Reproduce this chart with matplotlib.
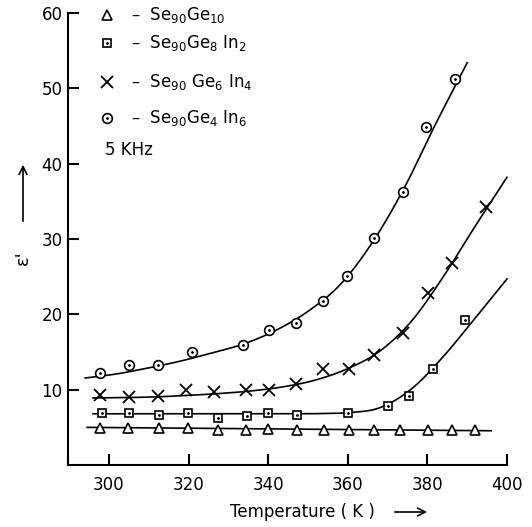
import numpy as np
import matplotlib
matplotlib.use("Agg")
import matplotlib.pyplot as plt

# ---------------- data ----------------
# Se90Ge10 (triangles)
t_tri = [297.7, 304.9, 312.6, 319.9, 327.5, 334.4, 340.0, 347.2, 353.9, 360.4,
         366.6, 373.1, 380.2, 386.1, 392.0]
e_tri = [4.95, 4.9, 4.85, 4.9, 4.7, 4.7, 4.75, 4.7, 4.65, 4.7, 4.65, 4.6, 4.6, 4.65, 4.65]
# Se90Ge8In2 (squares)
t_sq = [298.2, 305.0, 312.6, 319.9, 327.5, 334.7, 340.0, 347.2, 360.1, 370.2, 375.5, 381.3, 389.4]
e_sq = [6.9, 6.9, 6.7, 6.9, 6.3, 6.5, 6.9, 6.6, 6.9, 7.9, 9.2, 12.7, 19.2]
# Se90Ge6In4 (crosses)
t_x = [297.7, 305.0, 312.4, 319.3, 326.4, 334.4, 340.3, 347.0, 353.8, 360.4,
       366.6, 373.8, 380.2, 386.1, 394.7]
e_x = [9.3, 9.0, 9.1, 10.0, 9.7, 10.0, 10.0, 10.8, 12.7, 12.7, 14.6, 17.5, 22.9, 26.8, 34.3]
# Se90Ge4In6 (circles)
t_ci = [297.7, 305.0, 312.4, 320.8, 333.7, 340.3, 347.0, 353.8, 359.9, 366.7,
        373.8, 379.6, 386.9]
e_ci = [12.2, 13.3, 13.3, 15.0, 15.9, 17.9, 18.9, 21.8, 25.1, 30.2, 36.2, 44.9, 51.2]

# drawn trend curves
ct_tri = [294.5, 396.0]
ce_tri = [5.0, 4.55]
ct_sq = [296, 304, 312, 320, 328, 336, 344, 352, 360, 368, 376, 384, 392, 400]
ce_sq = [6.8, 6.8, 6.8, 6.8, 6.8, 6.8, 6.8, 6.82, 6.95, 7.6, 10.1, 14.4, 19.5, 24.7]
ct_x = [296, 304, 312, 320, 328, 336, 344, 352, 360, 368, 376, 384, 392, 400]
ce_x = [8.9, 8.95, 9.05, 9.25, 9.5, 9.85, 10.4, 11.3, 12.8, 15.1, 19.1, 25.0, 31.7, 38.2]
ct_ci = [294, 302, 310, 318, 326, 334, 342, 350, 358, 366, 374, 382, 390]
ce_ci = [11.55, 12.1, 12.9, 13.8, 14.9, 16.1, 17.9, 20.4, 23.9, 29.4, 36.6, 45.2, 53.4]

x_ticks = [300, 320, 340, 360, 380, 400]
y_ticks = [10, 20, 30, 40, 50, 60]
labels = [r'$\mathrm{Se_{90}Ge_{10}}$',
          r'$\mathrm{Se_{90}Ge_{8}\ In_{2}}$',
          r'$\mathrm{Se_{90}\ Ge_{6}\ In_{4}}$',
          r'$\mathrm{Se_{90}Ge_{4}\ In_{6}}$']
freq_label = '5 KHz'


def smooth(xs, ys, n=25):
    pts = np.column_stack([xs, ys]).astype(float)
    if len(pts) < 3:
        return pts[:, 0], pts[:, 1]
    p = np.vstack([2 * pts[0] - pts[1], pts, 2 * pts[-1] - pts[-2]])
    t = np.linspace(0, 1, n, endpoint=False)[:, None]
    out = []
    for i in range(1, len(p) - 2):
        p0, p1, p2, p3 = p[i - 1], p[i], p[i + 1], p[i + 2]
        seg = 0.5 * ((2 * p1) + (-p0 + p2) * t + (2 * p0 - 5 * p1 + 4 * p2 - p3) * t ** 2
                     + (-p0 + 3 * p1 - 3 * p2 + p3) * t ** 3)
        out.append(seg)
    out.append(pts[-1][None, :])
    o = np.vstack(out)
    return o[:, 0], o[:, 1]


fig = plt.figure(figsize=(5.32, 5.27), dpi=100)
ax = fig.add_axes([0.1278, 0.1176, 0.8252, 0.8577])
lw = 1.2
col = 'black'

for cx, cy in [(ct_tri, ce_tri), (ct_sq, ce_sq), (ct_x, ce_x), (ct_ci, ce_ci)]:
    sx, sy = smooth(cx, cy)
    ax.plot(sx, sy, color=col, lw=lw, clip_on=False)

ax.plot(t_tri, e_tri, linestyle='none', marker='^', ms=6.5, mfc='white', mec=col, mew=1.2, clip_on=False)
ax.plot(t_sq, e_sq, linestyle='none', marker='s', ms=5.5, mfc='white', mec=col, mew=1.2, clip_on=False)
ax.plot(t_sq, e_sq, linestyle='none', marker='.', ms=2, color=col, clip_on=False)
ax.plot(t_x, e_x, linestyle='none', marker='x', ms=8, mec=col, mew=1.3, clip_on=False)
ax.plot(t_ci, e_ci, linestyle='none', marker='o', ms=7, mfc='white', mec=col, mew=1.2, clip_on=False)
ax.plot(t_ci, e_ci, linestyle='none', marker='.', ms=2, color=col, clip_on=False)

# in-plot key
key_x = 299.5
key_y = [59.8, 56.0, 50.9, 46.1]
ax.plot([key_x], [key_y[0]], marker='^', ms=6.5, mfc='white', mec=col, mew=1.2, clip_on=False)
ax.plot([key_x], [key_y[1]], marker='s', ms=5.5, mfc='white', mec=col, mew=1.2, clip_on=False)
ax.plot([key_x], [key_y[1]], marker='.', ms=2, color=col, clip_on=False)
ax.plot([key_x], [key_y[2]], marker='x', ms=8, mec=col, mew=1.3, clip_on=False)
ax.plot([key_x], [key_y[3]], marker='o', ms=7, mfc='white', mec=col, mew=1.2, clip_on=False)
ax.plot([key_x], [key_y[3]], marker='.', ms=2, color=col, clip_on=False)
for yy, lab in zip(key_y, labels):
    ax.text(305.5, yy, '–  ' + lab, fontsize=12, va='center', ha='left')
ax.text(299.0, 41.8, freq_label, fontsize=12, va='center', ha='left')

ax.set_xlim(289.7, 400)
ax.set_ylim(0, 60)
ax.set_xticks(x_ticks)
ax.set_yticks(y_ticks)
for s in ['top', 'right']:
    ax.spines[s].set_visible(False)
for s in ['left', 'bottom']:
    ax.spines[s].set_linewidth(1.5)
ax.tick_params(axis='both', direction='in', length=8, width=1.5, labelsize=12)
ax.tick_params(axis='x', pad=8)
ax.tick_params(axis='y', pad=4)

fig.text(302 / 532, 1 - 512 / 527, 'Temperature ( K )', fontsize=12, ha='center', va='center')
ax.annotate('', xy=(430 / 532, 1 - 512 / 527), xytext=(392 / 532, 1 - 512 / 527),
            xycoords='figure fraction',
            arrowprops=dict(arrowstyle='->', lw=1.2, color=col, mutation_scale=14))
fig.text(23 / 532, 1 - 258 / 527, "ε'", fontsize=13, rotation=90, ha='center', va='center')
ax.annotate('', xy=(23 / 532, 1 - 162 / 527), xytext=(23 / 532, 1 - 224 / 527),
            xycoords='figure fraction',
            arrowprops=dict(arrowstyle='->', lw=1.2, color=col, mutation_scale=14))

fig.savefig('out.png', dpi=100)
